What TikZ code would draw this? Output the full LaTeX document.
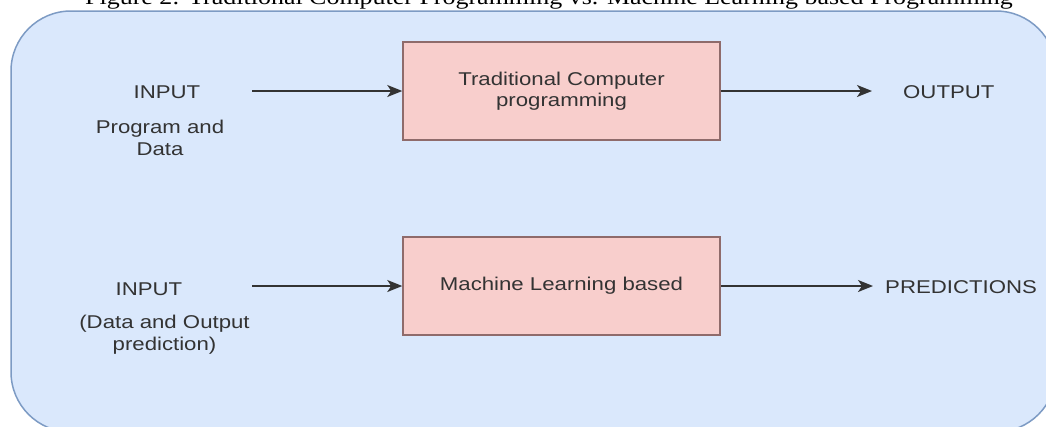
\documentclass[tikz,border=0pt]{standalone}
\usepackage{fontspec}
\setmainfont{Liberation Sans}
\newfontfamily\labfont[FakeStretch=1.2]{Liberation Sans}
\newfontfamily\titlefont[FakeStretch=1.18]{Liberation Serif}
\usetikzlibrary{arrows.meta}
\definecolor{bgfill}{HTML}{DAE8FC}
\definecolor{bgline}{HTML}{7D9BC4}
\definecolor{boxfill}{HTML}{F8CECC}
\definecolor{boxline}{HTML}{8F6B6B}
\definecolor{ink}{HTML}{333333}
\begin{document}
\begin{tikzpicture}[x=1pt,y=-1pt,
  lab/.style={font=\labfont\fontsize{18.5}{21.5}\selectfont, text=ink, inner sep=0pt, align=center},
  procbox/.style={draw=boxline, fill=boxfill, line width=1.5pt, minimum width=317pt, minimum height=98pt,
    inner sep=0pt, align=center, font=\labfont\fontsize{18.5}{21.5}\selectfont, text=ink},
  flow/.style={draw=ink, line width=1.7pt, -{Stealth[length=15pt,width=12pt,inset=4pt]}}]
\fill[white] (0,0) rectangle (1046,426);
\useasboundingbox (0,0) rectangle (1046,426);
\clip (0,0) rectangle (1046,426);
\draw[draw=bgline, fill=bgfill, line width=1.5pt, rounded corners=60pt] (11,11) rectangle (1056,432);
\node[anchor=base, font=\titlefont\fontsize{22}{24}\selectfont, inner sep=0pt] (title) at (549,4)
  {Figure 2: Traditional Computer Programming vs. Machine Learning based Programming};

\node[procbox] (tcp) at (561.5,91) {Traditional Computer\\programming};
\node[procbox] (mlb) at (561.5,286) {Machine Learning based};

\node[lab, anchor=base] (in1) at (167,98) {INPUT};
\node[lab, anchor=base] (pd) at (160,155) {Program and\\Data};
\node[lab, anchor=base west] (out1) at (903,98) {OUTPUT};

\node[lab, anchor=base] (in2) at (149,295) {INPUT};
\node[lab, anchor=base] (dop) at (164.5,350) {(Data and Output\\prediction)};
\node[lab, anchor=base west] (out2) at (885,293) {PREDICTIONS};

\coordinate (s1) at (252,91);
\coordinate (e1) at (872,91);
\coordinate (s2) at (252,286);
\coordinate (e2) at (873,286);

\draw[flow] (s1) -- (tcp.west);
\draw[flow] (tcp.east) -- (e1);
\draw[flow] (s2) -- (mlb.west);
\draw[flow] (mlb.east) -- (e2);
\end{tikzpicture}
\end{document}
